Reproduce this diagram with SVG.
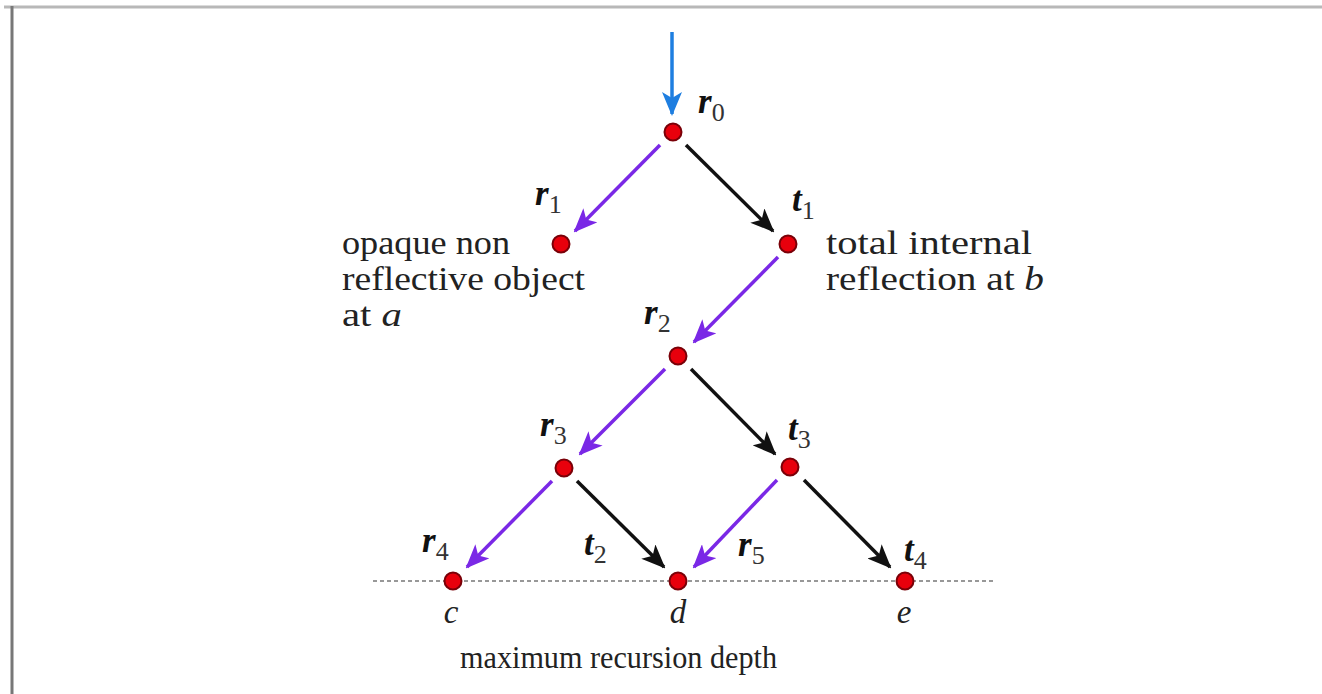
<svg xmlns="http://www.w3.org/2000/svg" width="1322" height="694" viewBox="0 0 1322 694">
<defs>
<style>
.txt{font-family:"Liberation Serif","DejaVu Serif",serif;font-size:33px;fill:#222}
.lab{font-family:"Liberation Serif","DejaVu Serif",serif;font-size:35px;font-weight:bold;font-style:italic;fill:#111}
.sub{font-size:26px;font-weight:normal;font-style:normal;fill:#333}
.it{font-style:italic}
.node{fill:#e8000c;stroke:#7a0008;stroke-width:2}
.blk{stroke:#111;stroke-width:3.5;fill:none}
.pur{stroke:#7a28e6;stroke-width:3.5;fill:none}
.blu{stroke:#1e7ee0;stroke-width:3.5;fill:none}
</style>
<marker id="ab" viewBox="0 0 24 20" refX="22" refY="10" markerWidth="24" markerHeight="20" markerUnits="userSpaceOnUse" orient="auto"><path d="M0,0 L24,10 L0,20 L6,10 Z" fill="#111"/></marker>
<marker id="ap" viewBox="0 0 24 20" refX="22" refY="10" markerWidth="24" markerHeight="20" markerUnits="userSpaceOnUse" orient="auto"><path d="M0,0 L24,10 L0,20 L6,10 Z" fill="#7a28e6"/></marker>
<marker id="abl" viewBox="0 0 24 20" refX="22" refY="10" markerWidth="24" markerHeight="20" markerUnits="userSpaceOnUse" orient="auto"><path d="M0,0 L24,10 L0,20 L6,10 Z" fill="#1e7ee0"/></marker>
</defs>
<rect width="1322" height="694" fill="#fff"/>
<line x1="4" y1="7" x2="1322" y2="7" stroke="#b8b8b8" stroke-width="3"/>
<line x1="12" y1="6" x2="12" y2="694" stroke="#777" stroke-width="3"/>
<g id="connectors">
<line x1="373" y1="581" x2="995" y2="581" stroke="#777" stroke-width="1.5" stroke-dasharray="4,3"/>
<line class="blu" x1="672" y1="32" x2="672" y2="114" marker-end="url(#abl)"/>
<line class="pur" x1="660" y1="145" x2="575" y2="231" marker-end="url(#ap)"/>
<line class="blk" x1="686" y1="145" x2="773" y2="231" marker-end="url(#ab)"/>
<line class="pur" x1="778" y1="257" x2="694" y2="342" marker-end="url(#ap)"/>
<line class="pur" x1="665" y1="369" x2="580" y2="454" marker-end="url(#ap)"/>
<line class="blk" x1="691" y1="369" x2="775" y2="454" marker-end="url(#ab)"/>
<line class="pur" x1="552" y1="481" x2="467" y2="567" marker-end="url(#ap)"/>
<line class="blk" x1="577" y1="481" x2="664" y2="567" marker-end="url(#ab)"/>
<line class="pur" x1="777" y1="480" x2="694" y2="567" marker-end="url(#ap)"/>
<line class="blk" x1="804" y1="480" x2="890" y2="567" marker-end="url(#ab)"/>
</g>
<g id="r0"><circle class="node" cx="673" cy="132" r="8.5"/><text class="lab" x="698" y="113">r<tspan class="sub" dy="8">0</tspan></text></g>
<g id="r1"><circle class="node" cx="561" cy="244" r="8.5"/><text class="lab" x="535" y="205">r<tspan class="sub" dy="8">1</tspan></text></g>
<g id="t1"><circle class="node" cx="788" cy="244" r="8.5"/><text class="lab" x="792" y="211">t<tspan class="sub" dy="8">1</tspan></text></g>
<g id="r2"><circle class="node" cx="678" cy="356" r="8.5"/><text class="lab" x="644" y="324">r<tspan class="sub" dy="8">2</tspan></text></g>
<g id="r3"><circle class="node" cx="564" cy="468" r="8.5"/><text class="lab" x="540" y="436">r<tspan class="sub" dy="8">3</tspan></text></g>
<g id="t3"><circle class="node" cx="790" cy="467" r="8.5"/><text class="lab" x="788" y="440">t<tspan class="sub" dy="8">3</tspan></text></g>
<g id="c"><circle class="node" cx="453" cy="581" r="8.5"/><text class="lab" x="422" y="552">r<tspan class="sub" dy="8">4</tspan></text><text class="txt it" x="451" y="623" text-anchor="middle">c</text></g>
<g id="d"><circle class="node" cx="678" cy="581" r="8.5"/><text class="lab" x="584" y="555">t<tspan class="sub" dy="8">2</tspan></text><text class="lab" x="738" y="556">r<tspan class="sub" dy="8">5</tspan></text><text class="txt it" x="678" y="623" text-anchor="middle">d</text></g>
<g id="e"><circle class="node" cx="905" cy="581" r="8.5"/><text class="lab" x="904" y="561">t<tspan class="sub" dy="8">4</tspan></text><text class="txt it" x="904" y="623" text-anchor="middle">e</text></g>
<g id="labels">
<text class="txt" x="342" y="254" textLength="168" lengthAdjust="spacingAndGlyphs">opaque non</text>
<text class="txt" x="342" y="290" textLength="243" lengthAdjust="spacingAndGlyphs">reflective object</text>
<text class="txt" x="342" y="326" textLength="60" lengthAdjust="spacingAndGlyphs">at <tspan class="it">a</tspan></text>
<text class="txt" x="826" y="254" textLength="206" lengthAdjust="spacingAndGlyphs">total internal</text>
<text class="txt" x="826" y="290" textLength="218" lengthAdjust="spacingAndGlyphs">reflection at <tspan class="it">b</tspan></text>
<text class="txt" x="460" y="668" style="font-size:32px" textLength="317" lengthAdjust="spacingAndGlyphs">maximum recursion depth</text>
</g>
</svg>
